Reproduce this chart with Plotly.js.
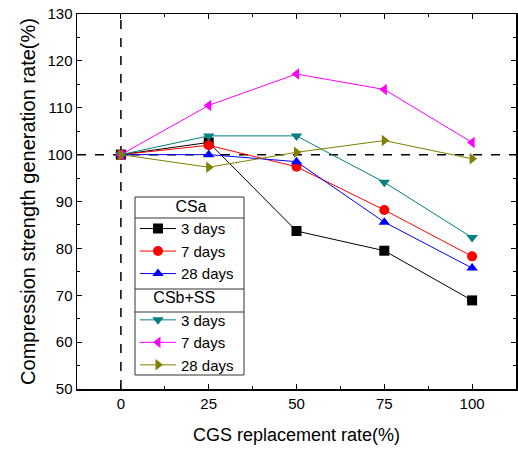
<!DOCTYPE html>
<html>
<head>
<meta charset="utf-8">
<script src="https://cdn.plot.ly/plotly-3.0.1.min.js"></script>
<style>html,body{margin:0;padding:0;background:#fff;}#chart{width:518px;height:450px;}</style>
</head>
<body>
<div id="chart"></div>
<script>
const replacementRate = [0, 25, 50, 75, 100];
const csa3 = [100, 102.6, 83.7, 79.5, 68.9];
const csa7 = [100, 102.0, 97.4, 88.2, 78.3];
const csa28 = [100, 100.0, 98.5, 85.6, 75.8];
const csb3 = [100, 104.0, 104.0, 94.1, 82.3];
const csb7 = [100, 110.5, 117.2, 113.9, 102.6];
const csb28 = [100, 97.3, 100.5, 103.0, 99.1];
const xTicks = [0, 25, 50, 75, 100];
const yTicks = [50, 60, 70, 80, 90, 100, 110, 120, 130];

const F = 'Liberation Sans, Arial, sans-serif';
const NB = '\u00a0';
function mk(name, y, color, symbol, group, gtitle) {
  const t = {
    x: replacementRate, y: y, name: name, type: 'scatter', mode: 'lines+markers',
    line: {color: color, width: 1},
    marker: {color: color, symbol: symbol, size: 10},
    legendgroup: group
  };
  if (gtitle) t.legendgrouptitle = {text: gtitle, font: {family: F, size: 16, color: '#000'}};
  return t;
}
const data = [
  mk('3 days', csa3, '#000000', 'square', 'a', NB.repeat(8) + 'CSa'),
  mk('7 days', csa7, '#ff0000', 'circle', 'a'),
  mk('28 days', csa28, '#0000ff', 'triangle-up', 'a'),
  mk('3 days', csb3, '#008080', 'triangle-down', 'b', NB.repeat(3) + 'CSb+SS'),
  mk('7 days', csb7, '#ff00ff', 'triangle-left', 'b'),
  mk('28 days', csb28, '#808000', 'triangle-right', 'b')
];
const axBase = {
  showgrid: false, zeroline: false, showline: true, linecolor: '#000', linewidth: 1.5,
  mirror: 'allticks', ticks: 'inside', ticklen: 5, tickcolor: '#000',
  tickfont: {family: F, size: 15, color: '#000'}
};
function px(p) { return (p - 77) / 439; }
function py(p) { return (389 - p) / 375; }
const sepLine = {color: '#333', width: 1};
function sep(yy) {
  return {type: 'line', xref: 'paper', yref: 'paper', x0: px(135), x1: px(244), y0: py(yy), y1: py(yy), line: sepLine, layer: 'above'};
}
const layout = {
  width: 518, height: 450,
  margin: {l: 77, r: 2, t: 14, b: 61},
  paper_bgcolor: '#fff', plot_bgcolor: '#fff',
  showlegend: true,
  xaxis: Object.assign({}, axBase, {
    range: [-12.5, 112.5], tickvals: xTicks, ticktext: xTicks.map(String),
    minor: {ticks: 'inside', ticklen: 3, tickcolor: '#000', dtick: 12.5, tick0: 12.5},
    title: {text: 'CGS replacement rate(%)', font: {family: F, size: 18, color: '#000'}, standoff: 18}
  }),
  yaxis: Object.assign({}, axBase, {
    range: [50, 130], tickvals: yTicks, ticktext: yTicks.map(String),
    minor: {ticks: 'inside', ticklen: 3, tickcolor: '#000', dtick: 5},
    title: {text: 'Compression strength generation rate(%)', font: {family: F, size: 20, color: '#000'}, standoff: 6}
  }),
  legend: {
    x: px(135), y: py(188.5), xanchor: 'left', yanchor: 'top',
    bgcolor: 'rgba(0,0,0,0)', bordercolor: 'rgba(0,0,0,0)', borderwidth: 0,
    font: {family: F, size: 15, color: '#000'},
    traceorder: 'grouped', tracegroupgap: 0, itemwidth: 36
  },
  shapes: [
    {type: 'line', xref: 'x', yref: 'paper', x0: 0, x1: 0, y0: 0, y1: 1, line: {color: '#000', width: 1.5, dash: 'dash'}, layer: 'below'},
    {type: 'line', xref: 'paper', yref: 'y', x0: 0, x1: 1, y0: 100, y1: 100, line: {color: '#000', width: 1.5, dash: 'dash'}, layer: 'below'},
    {type: 'rect', xref: 'paper', yref: 'paper', x0: px(135), x1: px(244), y0: py(375), y1: py(197), fillcolor: '#fff', line: sepLine, layer: 'above'},
    sep(218), sep(289), sep(312)
  ]
};
Plotly.newPlot('chart', data, layout, {displayModeBar: false, staticPlot: true});
</script>
</body>
</html>
